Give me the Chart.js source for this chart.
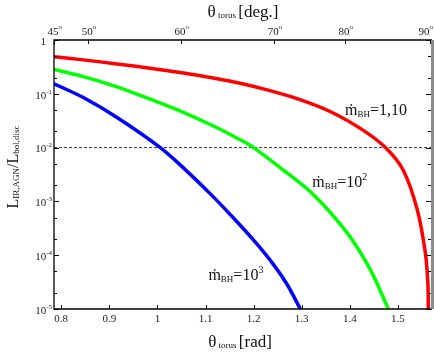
<!DOCTYPE html>
<html>
<head>
<meta charset="utf-8">
<script src="https://cdn.jsdelivr.net/npm/chart.js@4.4.0/dist/chart.umd.min.js"></script>
<style>
html, body { margin: 0; padding: 0; background: #fff; }
canvas { display: block; }
</style>
</head>
<body>
<canvas id="myChart" width="434" height="354"></canvas>
<script>
// curves: theta_torus [rad] and L_IR,AGN / L_bol,disc
const radRed = [0.785, 0.846, 0.916, 0.985, 1.054, 1.124, 1.172, 1.23, 1.29, 1.359, 1.428, 1.474, 1.511, 1.54, 1.557, 1.5622, 1.5632];
const lumRed = [0.49, 0.427, 0.359, 0.299, 0.243, 0.191, 0.157, 0.117, 0.0813, 0.0468, 0.0209, 0.0100, 0.0038, 7.1e-4, 1.1e-4, 3.0e-5, 1.0e-5];

const radGreen = [0.784, 0.846, 0.916, 0.985, 1.054, 1.124, 1.172, 1.20, 1.262, 1.325, 1.394, 1.442, 1.48];
const lumGreen = [0.285, 0.209, 0.135, 0.0794, 0.0452, 0.0234, 0.01396, 0.01, 0.0038, 0.00132, 2.63e-4, 5.5e-5, 1.0e-5];

const radBlue = [0.784, 0.846, 0.916, 1.006, 1.054, 1.11, 1.151, 1.2, 1.241, 1.27, 1.297];
const lumBlue = [0.155, 0.0851, 0.0363, 0.01, 0.0042, 0.00138, 5.75e-4, 1.9e-4, 6.76e-5, 2.82e-5, 1.0e-5];

const dashedLevel = 0.01;

// axes
const radMin = 0.785;
const radMax = 1.5708;
const radTicks = [0.8, 0.9, 1.0, 1.1, 1.2, 1.3, 1.4, 1.5];
const radTickLabels = ['0.8', '0.9', '1', '1.1', '1.2', '1.3', '1.4', '1.5'];
const degLabels = ['45', '50', '60', '70', '80', '90'];
const degTickRad = [0.785, 0.856, 1.049, 1.243, 1.390, 1.567]; // where the top ticks sit in the figure
const decades = [1, 1e-1, 1e-2, 1e-3, 1e-4, 1e-5];
const decadeExp = ['', '-1', '-2', '-3', '-4', '-5'];
const minorFactors = [2, 5];

// curve labels: text after the subscript, and left/baseline anchor in data units
const curveText = ['=1,10', '=10', '=10'];
const curveSup = ['', '2', '3'];
const curveAtRad = [1.390, 1.322, 1.106];
const curveAtLum = [0.041, 0.00186, 3.47e-5];

const SERIF = '"Liberation Serif", "DejaVu Serif", serif';

function pts(xs, ys) {
	return xs.map((x, i) => ({ x: x, y: ys[i] }));
}

// draws a row of text pieces of different size / vertical shift
function rich(ctx, parts, x, y, align) {
	let w = 0;
	parts.forEach(p => {
		ctx.font = p.size + 'px ' + SERIF;
		p.w = ctx.measureText(p.t).width;
		w += p.w;
	});
	let cx = align === 'center' ? x - w / 2 : align === 'right' ? x - w : x;
	ctx.textAlign = 'left';
	parts.forEach(p => {
		ctx.font = p.size + 'px ' + SERIF;
		ctx.fillText(p.t, cx, y + (p.dy || 0));
		cx += p.w;
	});
	return w;
}

const framePlugin = {
	id: 'frame',
	afterDraw(chart) {
		const ctx = chart.ctx;
		const a = chart.chartArea;
		const xs = chart.scales.x;
		const ys = chart.scales.y;
		ctx.save();

		// box
		ctx.strokeStyle = '#000';
		ctx.lineWidth = 1.3;
		ctx.beginPath();
		ctx.moveTo(a.right, a.top);
		ctx.lineTo(a.left, a.top);
		ctx.lineTo(a.left, a.bottom);
		ctx.lineTo(a.right, a.bottom);
		ctx.stroke();
		ctx.strokeStyle = '#8c8c8c';
		ctx.lineWidth = 3;
		ctx.beginPath();
		ctx.moveTo(a.right + 0.5, a.top);
		ctx.lineTo(a.right + 0.5, a.bottom);
		ctx.stroke();

		// ticks
		ctx.strokeStyle = '#000';
		ctx.lineWidth = 1;
		ctx.beginPath();
		radTicks.forEach(v => {
			const px = Math.round(xs.getPixelForValue(v)) + 0.5;
			ctx.moveTo(px, a.bottom);
			ctx.lineTo(px, a.bottom - 4);
		});
		degTickRad.forEach(v => {
			const px = Math.round(xs.getPixelForValue(v)) + 0.5;
			ctx.moveTo(px, a.top);
			ctx.lineTo(px, a.top + 4);
		});
		decades.forEach(d => {
			const py = Math.round(ys.getPixelForValue(d)) + 0.5;
			ctx.moveTo(a.left, py);
			ctx.lineTo(a.left + 5, py);
			ctx.moveTo(a.right - 1, py);
			ctx.lineTo(a.right - 6, py);
			minorFactors.forEach(f => {
				const v = d * f;
				if (v >= 1) return;
				const pm = Math.round(ys.getPixelForValue(v)) + 0.5;
				ctx.moveTo(a.left, pm);
				ctx.lineTo(a.left + 3, pm);
				ctx.moveTo(a.right - 1, pm);
				ctx.lineTo(a.right - 4, pm);
			});
		});
		ctx.stroke();

		// tick labels
		ctx.fillStyle = '#222';
		ctx.textBaseline = 'middle';
		radTicks.forEach((v, i) => {
			rich(ctx, [{ t: radTickLabels[i], size: 11 }], xs.getPixelForValue(v), a.bottom + 10, 'center');
		});
		degTickRad.forEach((v, i) => {
			ctx.font = '11px ' + SERIF;
			const w = ctx.measureText(degLabels[i]).width;
			ctx.font = '7px ' + SERIF;
			const wo = ctx.measureText('o').width;
			let x0 = xs.getPixelForValue(v) - w / 2 - 1;
			if (x0 + w + wo > chart.width - 1) x0 = chart.width - 1 - w - wo;
			rich(ctx, [{ t: degLabels[i], size: 11 }, { t: 'o', size: 7, dy: -5 }], x0, a.top - 8, 'left');
		});
		decades.forEach((d, i) => {
			const py = ys.getPixelForValue(d) + 2;
			if (decadeExp[i] === '') {
				rich(ctx, [{ t: '1', size: 11 }], 46, py, 'right');
			} else {
				rich(ctx, [{ t: '10', size: 11 }, { t: decadeExp[i], size: 7, dy: -4 }], 52, py, 'right');
			}
		});

		// axis titles
		ctx.fillStyle = '#111';
		rich(ctx, [{ t: '\u03b8', size: 17 }, { t: ' torus ', size: 9, dy: 3 }, { t: '[rad]', size: 17 }], 240, 343, 'center');
		rich(ctx, [{ t: '\u03b8', size: 17 }, { t: ' torus ', size: 9, dy: 3 }, { t: '[deg.]', size: 17 }], 243, 13, 'center');
		ctx.save();
		ctx.translate(14, 167);
		ctx.rotate(-Math.PI / 2);
		rich(ctx, [
			{ t: 'L', size: 16 }, { t: 'IR,AGN', size: 9, dy: 3 },
			{ t: '/L', size: 16 }, { t: 'bol,disc', size: 9, dy: 3 }
		], 0, 0, 'center');
		ctx.restore();

		// curve labels
		ctx.textBaseline = 'alphabetic';
		curveText.forEach((t, i) => {
			const px = xs.getPixelForValue(curveAtRad[i]);
			const py = ys.getPixelForValue(curveAtLum[i]);
			const parts = [{ t: '\u1e41', size: 16 }, { t: 'BH', size: 9, dy: 2 }, { t: t, size: 16 }];
			if (curveSup[i]) parts.push({ t: curveSup[i], size: 10, dy: -7 });
			rich(ctx, parts, px, py, 'left');
		});

		ctx.restore();
	}
};

const line = (rad, lum, color) => ({
	data: pts(rad, lum),
	borderColor: color,
	borderWidth: 3.5,
	pointRadius: 0,
	tension: 0.35,
	fill: false
});

const config = {
	type: 'line',
	data: {
		datasets: [
			line(radRed, lumRed, '#ff0000'),
			line(radGreen, lumGreen, '#00ff00'),
			line(radBlue, lumBlue, '#0000ff'),
			{
				data: [{ x: radMin, y: dashedLevel }, { x: radMax, y: dashedLevel }],
				borderColor: '#000',
				borderWidth: 0.8,
				borderDash: [3, 2],
				pointRadius: 0
			}
		]
	},
	options: {
		responsive: false,
		animation: false,
		layout: { padding: { left: 54, right: 2, top: 40, bottom: 45 } },
		plugins: { legend: { display: false }, tooltip: { enabled: false } },
		scales: {
			x: { type: 'linear', min: radMin, max: radMax, display: false },
			y: { type: 'logarithmic', min: 1e-5, max: 1, display: false }
		}
	},
	plugins: [framePlugin]
};

const chart = new Chart(document.getElementById('myChart').getContext('2d'), config);
</script>
</body>
</html>
